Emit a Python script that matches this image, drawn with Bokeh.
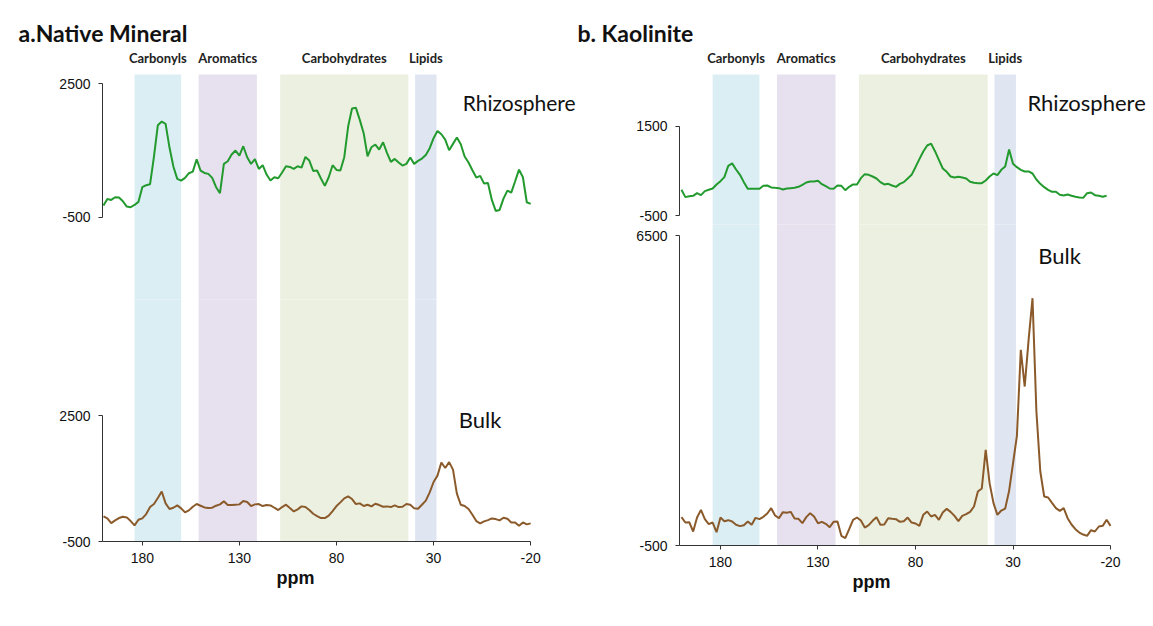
from bokeh.plotting import figure
from bokeh.models import Range1d, FixedTicker, Label, Title
from bokeh.layouts import row, column
from bokeh.embed import file_html
from bokeh.resources import INLINE

nan = float("nan")

# chemical shift grid (ppm), 200 -> -20 in 2 ppm steps
PPM = list(range(200, -21, -2))

CATEGORIES = ["Carbonyls", "Aromatics", "Carbohydrates", "Lipids"]
BAND_START = [184, 151, 109, 39.5]
BAND_END = [160, 121, 43, 28.5]
BAND_COLORS = ["#dbeef3", "#e7e1ef", "#ecf0e1", "#dfe6f1"]

X_TICKS = [180, 130, 80, 30, -20]

# a. Native Mineral
NATIVE_RHIZO = [
    -239, -89, -111, -51, -59, -141, -261, -276, -224, -156,
    174, 219, 242, 864, 1569, 1650, 1600, 1066, 639, 361,
    324, 384, 489, 526, 804, 549, 496, 474, 384, 174,
    39, 699, 759, 909, 999, 886, 1096, 849, 699, 804,
    586, 669, 459, 324, 399, 376, 504, 646, 631, 586,
    646, 616, 856, 774, 541, 549, 369, 204, 399, 669,
    564, 549, 849, 1539, 1944, 1959, 1689, 1389, 871, 1074,
    1134, 1021, 1186, 946, 744, 811, 729, 661, 699, 841,
    699, 766, 819, 901, 1051, 1276, 1441, 1366, 1246, 1006,
    1149, 1291, 1141, 864, 729, 556, 391, 429, 256, 271,
    -111, -359, -336, -81, 99, 54, 309, 571, 399, -164, -201,
]
NATIVE_BULK = [
    98, 50, -61, 2, 58, 90, 74, -14, -117, 18,
    50, 153, 320, 392, 535, 690, 408, 273, 304, 360,
    289, 193, 241, 328, 392, 352, 312, 296, 304, 352,
    384, 456, 368, 368, 376, 384, 464, 440, 344, 384,
    392, 344, 368, 360, 304, 249, 320, 376, 296, 217,
    265, 336, 320, 249, 161, 106, 58, 58, 114, 225,
    344, 432, 527, 575, 511, 392, 408, 344, 376, 336,
    400, 368, 328, 336, 320, 360, 320, 328, 392, 376,
    289, 281, 376, 472, 671, 917, 1068, 1380, 1250, 1390,
    1212, 639, 376, 344, 273, 137, -14, -69, -22, 10,
    50, 34, 2, 66, 42, -46, -46, -125, -46, -93, -69,
]

# b. Kaolinite
KAOL_RHIZO = [
    80, -84, -62, -54, 5, -40, 50, 80, 109, 199,
    273, 362, 615, 670, 533, 414, 251, 102, 102, 102,
    102, 169, 176, 132, 124, 117, 87, 109, 117, 124,
    146, 191, 243, 265, 265, 280, 206, 161, 109, 102,
    176, 169, 72, 146, 199, 199, 340, 429, 414, 377,
    332, 251, 199, 213, 176, 146, 213, 251, 332, 414,
    585, 764, 935, 1069, 1110, 942, 749, 556, 481, 377,
    355, 370, 355, 332, 258, 236, 228, 228, 288, 377,
    444, 407, 526, 600, 980, 660, 585, 526, 489, 489,
    444, 310, 213, 139, 80, 35, 35, -32, -47, -25,
    -54, -77, -92, -99, 5, 20, -40, -54, -77, -54, nan,
]
KAOL_BULK = [
    140, 19, 27, -184, 132, 305, 95, -18, 19, -199,
    132, 49, 72, 42, -33, -63, -41, 42, -33, 125,
    95, 147, 223, 343, 177, 117, 253, 238, 260, 110,
    102, 4, 140, 230, 155, 4, 34, -11, -86, 34,
    42, -282, -334, -131, 80, 132, 64, -94, -41, 57,
    140, -33, -26, 117, 102, 95, 34, 49, 132, 19,
    -3, -56, 192, 268, 155, 192, 80, 245, 328, 260,
    170, 49, 170, 207, 260, 381, 719, 787, 1660, 907,
    456, 192, 290, 335, 734, 1352, 1976, 3918, 3090, 4144,
    5085, 2526, 1171, 606, 584, 463, 343, 283, 343, 117,
    -26, -131, -207, -252, -282, -154, -184, -71, -56, 80, -56,
]

GREEN = "#229a2e"
BROWN = "#8b5a2b"
LABEL_FONT = "Lato"
TICK_FONT = "Liberation Sans"
AXIS_COLOR = "#333333"


def base_fig(fw, fh, left, top, bottom, x0, x1, y0, y1, x_loc):
    p = figure(frame_width=fw, frame_height=fh,
               x_range=Range1d(x0, x1), y_range=Range1d(y0, y1),
               output_backend="svg", toolbar_location=None,
               x_axis_location=x_loc, y_axis_location="left",
               min_border_left=left, min_border_right=0,
               min_border_top=top, min_border_bottom=bottom)
    p.outline_line_color = None
    p.grid.visible = False
    p.background_fill_color = "white"
    p.border_fill_color = "white"
    span = y1 - y0
    p.quad(left=BAND_START, right=BAND_END,
           bottom=[y0 - span] * len(BAND_START), top=[y1 + span] * len(BAND_START),
           fill_color=BAND_COLORS, line_color=None)
    return p


def style_yaxis(p, lo, hi):
    ax = p.yaxis[0]
    ax.ticker = FixedTicker(ticks=[lo, hi])
    ax.bounds = (lo, hi)
    ax.major_label_overrides = {lo: str(lo), hi: str(hi)}
    ax.minor_tick_line_color = None
    ax.major_tick_in = 0
    ax.major_tick_out = 4
    ax.major_label_standoff = 8
    ax.axis_line_color = AXIS_COLOR
    ax.major_tick_line_color = AXIS_COLOR
    ax.major_label_text_font = TICK_FONT
    ax.major_label_text_font_size = "14px"
    ax.major_label_text_color = "#111111"


def style_category_axis(p):
    centers = [(s + e) / 2 for s, e in zip(BAND_START, BAND_END)]
    ax = p.xaxis[0]
    ax.ticker = FixedTicker(ticks=centers)
    ax.major_label_overrides = {c: n for c, n in zip(centers, CATEGORIES)}
    ax.axis_line_color = None
    ax.major_tick_line_color = None
    ax.minor_tick_line_color = None
    ax.major_tick_out = 0
    ax.major_tick_in = 0
    ax.major_label_standoff = 9
    ax.major_label_text_font = LABEL_FONT
    ax.major_label_text_font_style = "bold"
    ax.major_label_text_font_size = "13px"
    ax.major_label_text_color = "#222222"


def style_xaxis(p, x0):
    ax = p.xaxis[0]
    ax.ticker = FixedTicker(ticks=X_TICKS)
    ax.bounds = (-20, x0)
    ax.major_label_overrides = {t: str(t) for t in X_TICKS}
    ax.minor_tick_line_color = None
    ax.major_tick_in = 0
    ax.major_tick_out = 4
    ax.major_label_standoff = 7
    ax.axis_line_color = AXIS_COLOR
    ax.major_tick_line_color = AXIS_COLOR
    ax.major_label_text_font = TICK_FONT
    ax.major_label_text_font_size = "14px"
    ax.major_label_text_color = "#111111"


def set_title(p, txt, offset):
    p.title.text = txt
    p.title.align = "left"
    p.title.offset = offset
    p.title.standoff = 0
    p.title.text_font = LABEL_FONT
    p.title.text_font_size = "23px"
    p.title.text_font_style = "bold"
    p.title.text_color = "#111111"


def add_ppm(p, offset):
    p.add_layout(Title(text="ppm", align="left", offset=offset, standoff=0,
                       text_font=TICK_FONT, text_font_size="18px",
                       text_font_style="bold", text_color="#111111"), "below")


def text(p, x, y, s, size):
    p.add_layout(Label(x=x, y=y, text=s, text_font=LABEL_FONT,
                       text_font_size=size, text_color="#111111",
                       text_baseline="middle", text_align="left"))


# ---------- panel a ----------
AX0, AX1 = 200.5, -43.6
a_top = base_fig(474, 226, 102, 74, 0, AX0, AX1, -2373, 2709, "above")
a_top.line(PPM, NATIVE_RHIZO, color=GREEN, line_width=2)
style_yaxis(a_top, -500, 2500)
style_category_axis(a_top)
set_title(a_top, "a.Native Mineral", -84)
text(a_top, 15, 2079, "Rhizosphere", "21px")

a_bot = base_fig(474, 242, 102, 0, 50, AX0, AX1, -500, 5262, "below")
a_bot.line(PPM, NATIVE_BULK, color=BROWN, line_width=2)
style_yaxis(a_bot, -500, 2500)
style_xaxis(a_bot, AX0)
text(a_bot, 17, 2405, "Bulk", "22px")
add_ppm(a_bot, 174)
a_bot.styles = {"margin-top": "-1px"}

# ---------- panel b ----------
BX0, BX1 = 201, -40.5
b_top = base_fig(471, 151, 103, 74, 0, BX0, BX1, -717, 2654, "above")
b_top.line(PPM, KAOL_RHIZO, color=GREEN, line_width=2)
style_yaxis(b_top, -500, 1500)
style_category_axis(b_top)
set_title(b_top, "b. Kaolinite", -102)
text(b_top, 22.6, 2029, "Rhizosphere", "22px")

b_bot = base_fig(471, 321, 103, 0, 50, BX0, BX1, -500, 6749, "below")
b_bot.line(PPM, KAOL_BULK, color=BROWN, line_width=2)
style_yaxis(b_bot, -500, 6500)
style_xaxis(b_bot, BX0)
text(b_bot, 17, 6041, "Bulk", "22px")
add_ppm(b_bot, 173)
b_bot.styles = {"margin-top": "-1px"}

layout = row(column(a_top, a_bot, spacing=0), column(b_top, b_bot, spacing=0), spacing=0)

open("out.html", "w").write(file_html(layout, INLINE))
